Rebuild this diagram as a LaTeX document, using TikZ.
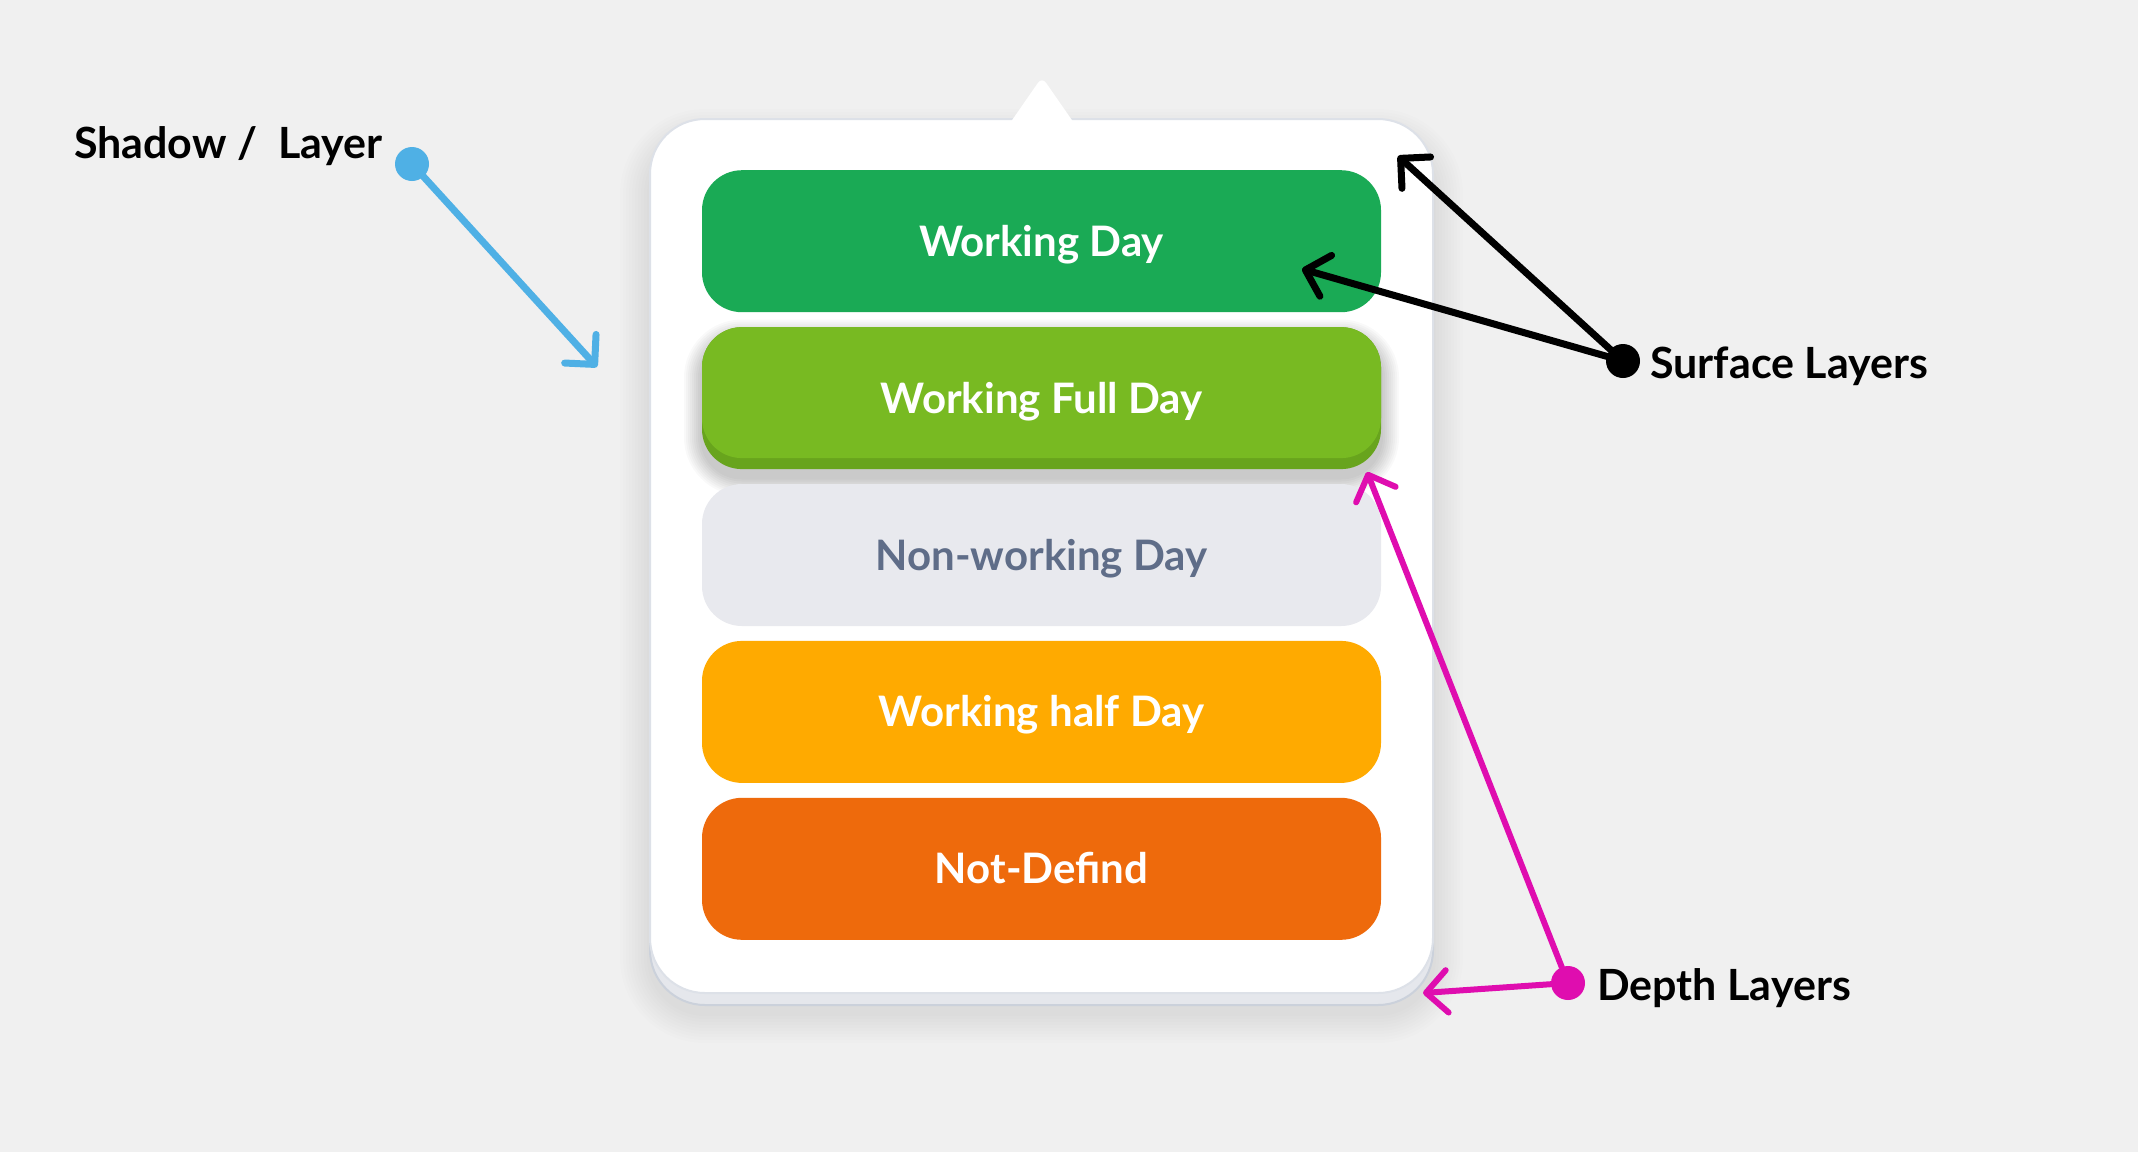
\documentclass[tikz,border=0pt]{standalone}
\usepackage{xcolor}
\usepackage{fontspec}
\setmainfont{Lato}
\usepackage{tikz}
\usetikzlibrary{positioning,arrows.meta}

\definecolor{bgGray}{HTML}{F0F0F0}
\definecolor{cardLine}{HTML}{DDE1E8}
\definecolor{depthFill}{HTML}{E5E7EC}
\definecolor{depthLine}{HTML}{CBD1DB}
\definecolor{dayGreen}{HTML}{1AAA55}
\definecolor{fullGreen}{HTML}{78BA22}
\definecolor{fullDark}{HTML}{68A41D}
\definecolor{offGray}{HTML}{E8E9EE}
\definecolor{offText}{HTML}{5F6D88}
\definecolor{halfAmber}{HTML}{FFAA00}
\definecolor{undefOrange}{HTML}{EE6A0C}
\definecolor{shadowBlue}{HTML}{4FB0E5}
\definecolor{depthPink}{HTML}{DF0DAF}

\begin{document}
\begin{tikzpicture}[x=1pt, y=-1pt,
  card/.style={rounded corners=55pt, minimum width=783pt, minimum height=874pt,
    line width=2pt},
  dayBtn/.style={rounded corners=40pt, minimum width=679pt, minimum height=142pt,
    inner sep=0pt, text height=30pt, text depth=0pt, text=white,
    font=\fontsize{42}{50}\selectfont\bfseries},
  dot/.style={circle, fill, inner sep=0pt, minimum size=34pt},
  note/.style={font=\fontsize{43}{50}\selectfont\bfseries, inner sep=0pt},
  pointer/.style={line width=7pt, line cap=round,
    -{Straight Barb[angle=90:30pt, round]}}]

  \useasboundingbox[fill=bgGray] (0,0) rectangle (2138,1152);

  % soft shadow round the card
  \foreach \g [evaluate=\g as \rc using 55+3*\g] in {1,...,10}
    \fill[black, opacity=0.006, rounded corners=\rc pt]
      (650-3*\g, 131-3*\g+8) rectangle (1433+3*\g, 1005+3*\g+8);

  % card with its depth layer and tab
  \node[card, fill=depthFill, draw=depthLine] (depth) at (1041.5,568) {};
  \node[card, fill=white, draw=cardLine] (panel) at (1041.5,556) {};
  \fill[white] (1008,126) [rounded corners=7pt] -- (1042,77) [sharp corners] -- (1076,126) -- cycle;

  % day types
  \node[dayBtn, fill=dayGreen, below=52pt of panel.north] (work) {Working Day};
  \foreach \g [evaluate=\g as \rc using 40+2*\g] in {1,...,9}
    \fill[black, opacity=0.022, rounded corners=\rc pt]
      (702-2*\g, 327.5-2*\g+10) rectangle (1381+2*\g, 469.5+2*\g+8);
  \node[dayBtn, fill=fullDark, below=14.5pt of work,
    path picture={\fill[fullGreen, rounded corners=40pt]
      (path picture bounding box.north west)
      rectangle ([yshift=11pt]path picture bounding box.south east);}] (full) {Working Full Day};
  \node[dayBtn, fill=offGray, text=offText, below=14.5pt of full] (off) {Non-working Day};
  \node[dayBtn, fill=halfAmber, below=14.5pt of off] (half) {Working half Day};
  \node[dayBtn, fill=undefOrange, below=14.5pt of half] (undef) {Not-Defind};

  % callouts
  \node[dot, fill=shadowBlue] (sdot) at (412,164) {};
  \node[note, left=12pt of sdot, anchor=base east, yshift=6pt] (slabel) {Shadow /\ \ Layer};
  \node[dot, fill=black] (surf) at (1623,361) {};
  \node[note, right=10pt of surf, anchor=base west, yshift=-17pt] (surflabel) {Surface Layers};
  \node[dot, fill=depthPink] (dep) at (1568,983) {};
  \node[note, right=12pt of dep, anchor=base west, yshift=-17pt] (deplabel) {Depth Layers};

  \coordinate (stip) at (597,367);
  \coordinate (toptip) at (1398,156);
  \coordinate (worktip) at (1302,269);
  \coordinate (fulltip) at (1367,472);
  \coordinate (edgetip) at (1423,993);

  \draw[pointer, shadowBlue] (sdot) -- (stip);
  \draw[pointer, black] (surf) -- (toptip);
  \draw[pointer, black] (surf) -- (worktip);
  \draw[pointer, depthPink, line width=6pt] (dep) -- (fulltip);
  \draw[pointer, depthPink, line width=6pt] (dep) -- (edgetip);
\end{tikzpicture}
\end{document}
